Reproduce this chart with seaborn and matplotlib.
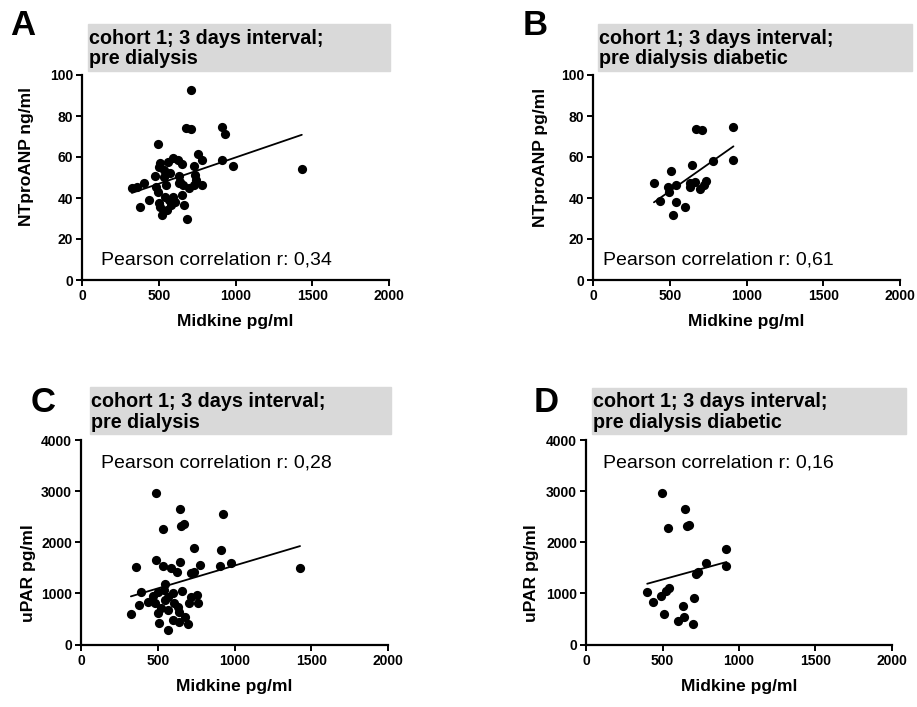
import matplotlib
matplotlib.use("Agg")
import matplotlib.pyplot as plt
from matplotlib.patches import Rectangle
import seaborn as sns

# ── Data ──────────────────────────────────────────────────────────────────────
# A: all pre dialysis patients, Midkine vs NTproANP
A_midkine = [711, 677, 709, 915, 933, 492, 755, 781, 915, 983, 1432, 590, 623,
             560, 510, 499, 531, 651, 731, 473, 629, 737, 742, 325, 358, 401,
             482, 547, 636, 655, 694, 727, 781, 495, 434, 380, 505, 542, 564,
             607, 581, 651, 662, 553, 521, 683, 499, 596, 629, 531, 575]
A_ntproanp = [92.8, 74.3, 73.8, 74.8, 71.0, 66.1, 61.5, 58.4, 58.4, 55.7, 54.1,
              59.5, 58.7, 57.4, 57.0, 55.1, 53.8, 56.6, 55.4, 50.5, 50.8, 51.3,
              48.9, 44.8, 45.2, 47.5, 45.6, 46.4, 48.0, 46.4, 44.8, 46.4, 46.4,
              43.1, 39.0, 35.7, 35.4, 40.7, 39.0, 38.2, 36.6, 41.5, 36.6, 34.1,
              31.6, 29.7, 37.4, 40.7, 47.2, 50.2, 52.1]

# B: diabetic subgroup, Midkine vs NTproANP
B_midkine = [672, 709, 915, 915, 781, 510, 644, 397, 488, 538, 629, 662, 633,
             737, 720, 694, 492, 434, 538, 601, 521]
B_ntproanp = [73.9, 73.4, 74.8, 58.4, 58.2, 53.4, 56.2, 47.2, 45.2, 46.1, 47.5,
              48.0, 45.6, 48.5, 46.4, 44.4, 42.8, 38.5, 38.2, 35.4, 31.6]

# C: all pre dialysis patients, Midkine vs uPAR
C_midkine = [490, 642, 926, 531, 653, 672, 733, 911, 358, 490, 531, 586, 623,
             644, 716, 737, 776, 907, 980, 1427, 547, 390, 466, 499, 538, 597,
             655, 716, 755, 380, 434, 483, 547, 564, 629, 705, 759, 325, 503,
             569, 640, 510, 597, 640, 677, 694, 570, 521, 608]
C_upar = [2963, 2655, 2557, 2263, 2322, 2361, 1884, 1851, 1524, 1655, 1543,
          1491, 1426, 1609, 1393, 1426, 1557, 1543, 1589, 1491, 1184, 1020, 955,
          1020, 1066, 1001, 1046, 935, 968, 772, 824, 804, 870, 935, 739, 804,
          804, 595, 608, 674, 641, 425, 477, 445, 543, 392, 281, 706, 804]

# D: diabetic subgroup, Midkine vs uPAR
D_midkine = [494, 646, 537, 657, 672, 918, 918, 787, 733, 718, 400, 544, 522,
             487, 435, 707, 635, 509, 602, 639, 700]
D_upar = [2963, 2655, 2269, 2309, 2341, 1864, 1537, 1589, 1426, 1380, 1033,
          1099, 1053, 948, 824, 916, 759, 595, 464, 530, 392]

TITLE_LINE1 = "cohort 1; 3 days interval;"
X_LABEL = "Midkine pg/ml"

# ── Style ─────────────────────────────────────────────────────────────────────
sns.set_style("ticks")
plt.rcParams["font.family"] = ["Liberation Sans", "DejaVu Sans"]
plt.rcParams.update({
    "text.color": "black", "axes.labelcolor": "black",
    "xtick.color": "black", "ytick.color": "black",
    "axes.edgecolor": "black",
})

W, H = 917, 707
fig = plt.figure(figsize=(W / 100, H / 100), dpi=100)


def fx(px):
    return px / W


def fy(py):
    return 1 - py / H


panels = [
    dict(letter="A", x=A_midkine, y=A_ntproanp, ylabel="NTproANP ng/ml",
         sub="pre dialysis", r="0,34", ymax=100, ystep=20,
         ax_box=(82, 75, 389, 280), gray=(88, 24, 390, 71), title_x=89,
         base1=44, base2=64, letter_xy=(10, 35), r_xy=(101, 265),
         ylab=(-0.155, 0.60)),
    dict(letter="B", x=B_midkine, y=B_ntproanp, ylabel="NTproANP pg/ml",
         sub="pre dialysis diabetic", r="0,61", ymax=100, ystep=20,
         ax_box=(593, 75, 900, 280), gray=(598, 24, 912, 71), title_x=599,
         base1=44, base2=64, letter_xy=(523, 35), r_xy=(603, 265),
         ylab=(-0.148, 0.60)),
    dict(letter="C", x=C_midkine, y=C_upar, ylabel="uPAR pg/ml",
         sub="pre dialysis", r="0,28", ymax=4000, ystep=1000,
         ax_box=(81, 440, 388, 644.5), gray=(90, 387, 391, 434), title_x=91,
         base1=407, base2=428, letter_xy=(31, 412), r_xy=(101, 467),
         ylab=(-0.148, 0.35)),
    dict(letter="D", x=D_midkine, y=D_upar, ylabel="uPAR pg/ml",
         sub="pre dialysis diabetic", r="0,16", ymax=4000, ystep=1000,
         ax_box=(586, 440, 892, 644.5), gray=(592, 388, 906, 434), title_x=593,
         base1=407, base2=428, letter_xy=(534, 412), r_xy=(603, 467),
         ylab=(-0.152, 0.35)),
]

for p in panels:
    l, t, r, b = p["ax_box"]
    ax = fig.add_axes([fx(l), fy(b), fx(r - l), (b - t) / H])

    sns.regplot(x=p["x"], y=p["y"], ax=ax, ci=None, color="black",
                scatter_kws=dict(s=44, linewidths=0, alpha=1),
                line_kws=dict(lw=1.3))

    ax.set_xlim(0, 2000)
    ax.set_ylim(0, p["ymax"])
    ax.set_xticks(range(0, 2001, 500))
    ax.set_yticks(range(0, p["ymax"] + 1, p["ystep"]))
    sns.despine(ax=ax)
    for side in ("left", "bottom"):
        ax.spines[side].set_linewidth(1.6)
    ax.tick_params(length=4, width=1.4, labelsize=10, pad=2.5)
    plt.setp(ax.get_xticklabels() + ax.get_yticklabels(), fontweight="bold")

    ax.set_xlabel(X_LABEL, fontsize=12.5, fontweight="bold", labelpad=8)
    ax.set_ylabel(p["ylabel"], fontsize=12.5, fontweight="bold")
    ax.yaxis.set_label_coords(*p["ylab"])

    # grey title box above each panel
    gl, gt, gr, gb = p["gray"]
    fig.patches.append(Rectangle((fx(gl), fy(gb)), fx(gr - gl), (gb - gt) / H,
                                 transform=fig.transFigure, color="#d9d9d9",
                                 zorder=0))
    fig.text(fx(p["title_x"]), fy(p["base1"]), TITLE_LINE1, fontsize=14.2,
             fontweight="bold", va="baseline")
    fig.text(fx(p["title_x"]), fy(p["base2"]), p["sub"], fontsize=14.2,
             fontweight="bold", va="baseline")

    fig.text(fx(p["letter_xy"][0]), fy(p["letter_xy"][1]), p["letter"],
             fontsize=25, fontweight="bold", va="baseline")
    fig.text(fx(p["r_xy"][0]), fy(p["r_xy"][1]),
             "Pearson correlation r: " + p["r"], fontsize=14, va="baseline")

fig.savefig("out.png", dpi=100)
